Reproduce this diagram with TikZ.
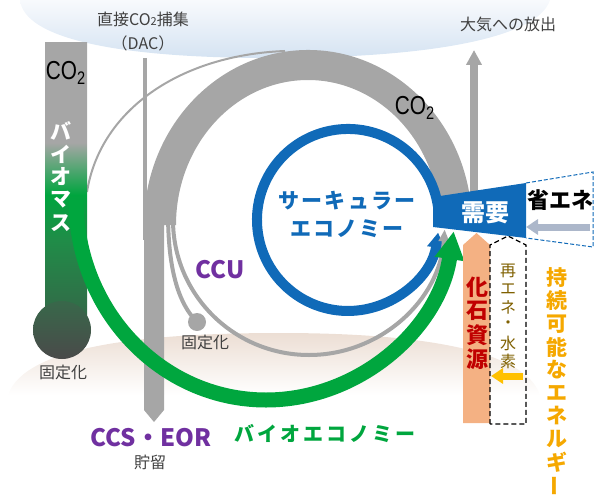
\documentclass[tikz,border=0pt]{standalone}
\usepackage{fontspec}
\usepackage{graphicx}
\setmainfont{Noto Sans CJK JP}
\newfontfamily\arialf{Liberation Sans}
\usetikzlibrary{arrows.meta}
\definecolor{bandgray}{RGB}{166,166,166}
\definecolor{txtgray}{RGB}{64,64,64}
\definecolor{skyT}{RGB}{248,250,253}
\definecolor{skyB}{RGB}{213,227,242}
\definecolor{gndT}{RGB}{236,222,212}
\definecolor{gndM}{RGB}{251,229,211}
\definecolor{bioG}{RGB}{0,165,62}
\definecolor{bioG2}{RGB}{32,140,72}
\definecolor{bioD}{RGB}{52,104,72}
\definecolor{circT}{RGB}{56,104,74}
\definecolor{circB}{RGB}{74,74,74}
\definecolor{biogreen}{RGB}{0,166,62}
\definecolor{cblue}{RGB}{16,106,184}
\definecolor{cpurple}{RGB}{112,48,160}
\definecolor{cred}{RGB}{192,0,0}
\definecolor{peach}{RGB}{244,177,131}
\definecolor{olive}{RGB}{127,96,0}
\definecolor{amber}{RGB}{245,168,0}
\definecolor{yel}{RGB}{255,192,0}
\definecolor{sgray}{RGB}{172,183,202}
\pgfdeclareverticalshading{biobar}{100bp}{color(0bp)=(bioD); color(25bp)=(bioD); color(39.4bp)=(bioG2); color(47.6bp)=(bioG); color(57bp)=(bandgray); color(100bp)=(bandgray)}
\newcommand\fsz[1]{\fontsize{#1}{#1}\selectfont}
\tikzset{
  lab/.style={inner sep=0pt, text=txtgray, font=\fsz{8pt}},
  bigpurple/.style={inner sep=0pt, text=cpurple, font=\bfseries\fsz{12pt}},
  co2lab/.style={inner sep=0pt, text=black, font=\arialf\fsz{13pt}},
  vchar/.style={inner sep=0pt},
}
\begin{document}
\begin{tikzpicture}[x=0.5pt,y=-0.5pt]
\useasboundingbox (0,0) rectangle (603,497);
% sky
\shade[top color=skyT, bottom color=skyB] (20,0) .. controls (24,38) and (115,58) .. (270,58) .. controls (430,58) and (538,38) .. (550,0) -- cycle;
% ground
\shade[top color=gndT, middle color=gndM, bottom color=white] (8,395) .. controls (25,345) and (150,333) .. (280,333) .. controls (420,333) and (525,350) .. (540,395) -- cycle;
% big CO2 band with CCS bar
\fill[bandgray] (471.1,206.7) arc[start angle=-6, end angle=-180, x radius=164, y radius=175] -- (144,410) -- (154,422) -- (164,410) -- (164,225) -- (176,225) arc[start angle=180, end angle=354, x radius=132, y radius=145] -- cycle;
% DAC line
\draw[bandgray, line width=1.8pt] (145,58) -- (145,240);
% atmosphere to biomass
\draw[bandgray, line width=1pt] (285,51) .. controls (180,55) and (100,110) .. (87,192);
% CCU strands
\draw[bandgray, line width=2pt] (168,212) .. controls (168,260) and (175,300) .. (197,322);
\fill[bandgray] (197,322) circle[radius=9];
% biomass bar
\shade[shading=biobar] (45,43) rectangle (87,320);
\shade[top color=circT, bottom color=circB] (62,330) circle[radius=29];
% blue ring
\draw[cblue, line width=5pt, -{Triangle[width=8.5pt,length=7.5pt]}] (438.1,207.3) arc[start angle=-8, end angle=-352, radius=91];
% CCU loop strand
\draw[bandgray, line width=2pt, -{Triangle[width=5pt,length=6pt]}] (173,220) arc[start angle=180, end angle=4, x radius=136, y radius=135];
% green bio economy arc
\draw[biogreen, line width=7.5pt, -{Triangle[width=14pt,length=14pt]}] (76,200) arc[start angle=180, end angle=9, x radius=190, y radius=200];
% fossil bar
\fill[peach] (463,423) -- (463,245) -- (476.5,233) -- (490,245) -- (490,423) -- cycle;
% renewables dashed
\draw[black, line width=0.6pt, dash pattern=on 2.5pt off 1.5pt] (490,424) -- (490,245) -- (508,236) -- (526,245) -- (526,424) -- cycle;
\draw[yel, line width=3.5pt, -{Triangle[width=7.5pt,length=6pt]}] (523,376) -- (491,376);
% emission arrow
\draw[bandgray, line width=4pt, -{Triangle[width=7.5pt,length=7.5pt]}] (474,195) -- (474,50);
% demand block
\fill[cblue] (440,196) -- (526,183) -- (526,238) -- (433,227) -- (433,208) -- cycle;
\draw[cblue, line width=0.5pt, dash pattern=on 2pt off 1pt] (526,183) -- (593,172) -- (593,247) -- (526,238);
\draw[sgray, line width=3.5pt, -{Triangle[width=7.5pt,length=6pt]}] (590,227) -- (526,227);
% texts
\node[lab] (dac1) at (143,19) {直接CO{\fsz{5.5pt}2}捕集};
\node[lab] (dac2) at (143,43) {（DAC）};
\node[lab] (emit) at (508,24) {大気への放出};
\node[lab] (fix1) at (63,372) {固定化};
\node[lab] (fix2) at (205,342) {固定化};
\node[lab] (stor) at (150,462) {貯留};
\node[co2lab] (co2a) at (66,73) {\scalebox{0.8}[1]{CO\textsubscript{2}}};
\node[co2lab] (co2b) at (415,108) {\scalebox{0.8}[1]{CO\textsubscript{2}}};
\node[bigpurple] (ccu) at (220,270) {CCU};
\node[bigpurple] (ccs) at (151,438) {CCS・EOR};
\node[inner sep=0pt, text=cblue, font=\bfseries\fsz{10.5pt}] (ce1) at (347,201) {\addfontfeatures{LetterSpace=10}サーキュラー};
\node[inner sep=0pt, text=cblue, font=\bfseries\fsz{10.5pt}] (ce2) at (347,229) {\addfontfeatures{LetterSpace=10}エコノミー};
\node[inner sep=0pt, text=biogreen, font=\bfseries\fsz{10pt}] (bioe) at (325,434) {\addfontfeatures{LetterSpace=15}バイオエコノミー};
\node[inner sep=0pt, text=white, font=\bfseries\fsz{12pt}] (need) at (485,213) {需要};
\node[inner sep=0pt, text=black, font=\bfseries\fsz{11pt}] (save) at (560,200) {省エネ};
\foreach \ch [count=\i from 0] in {バ,イ,オ,マ,ス}
  \node[vchar, text=white, font=\bfseries\fsz{10.5pt}] (bm\i) at (61,{131+23*\i}) {\ch};
\foreach \ch [count=\i from 0] in {化,石,資,源}
  \node[vchar, text=cred, font=\bfseries\fsz{11pt}] (fs\i) at (477,{287+24*\i}) {\ch};
\foreach \ch [count=\i from 0] in {再,エ,ネ,・,水,素}
  \node[vchar, text=olive, font=\fsz{8pt}] (re\i) at (508,{271+18*\i}) {\ch};
\foreach \ch [count=\i from 0] in {持,続,可,能,な,エ,ネ,ル,ギ}
  \node[vchar, text=amber, font=\bfseries\fsz{10.5pt}] (se\i) at (557,{278+23*\i}) {\ch};
\node[vchar, text=amber, font=\bfseries\fsz{10.5pt}] (se9) at (557,486) {\rotatebox{90}{ー}};
\end{tikzpicture}
\end{document}
